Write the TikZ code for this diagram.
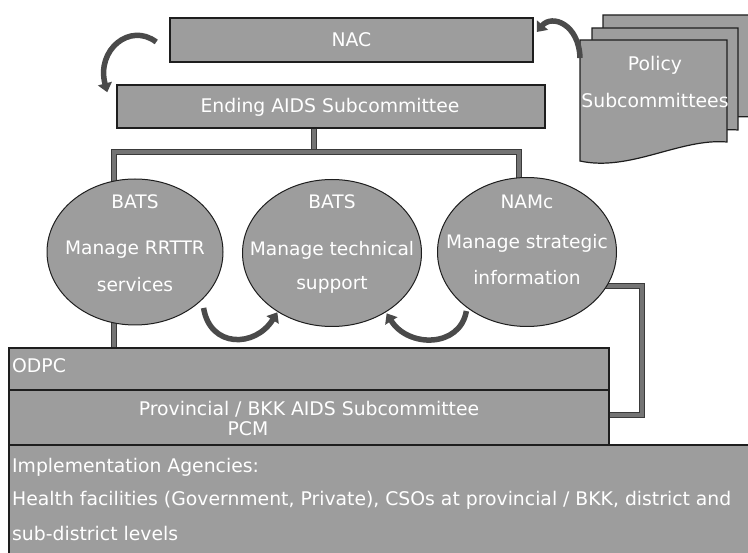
\documentclass[tikz,border=0pt]{standalone}
\usepackage{fontspec}
\setmainfont{DejaVu Sans}
\usetikzlibrary{shapes.geometric,arrows.meta,calc}
\definecolor{boxfill}{HTML}{9D9D9D}
\definecolor{boxline}{HTML}{1E1E1E}
\definecolor{connout}{HTML}{3A3A3A}
\definecolor{connin}{HTML}{747474}
\definecolor{arrowcol}{HTML}{4A4A4A}
\pgfdeclarelayer{bg}
\pgfsetlayers{bg,main}
\tikzset{
  box/.style={draw=boxline, fill=boxfill, line width=1.5pt, rectangle, inner sep=0pt},
  oval/.style={draw=boxline, fill=boxfill, line width=1pt, ellipse, inner sep=0pt},
  txt/.style={text=white, font=\fontsize{18.8}{22}\selectfont, inner sep=0pt},
  etxt/.style={text=white, font=\fontsize{18.6}{22}\selectfont, inner sep=0pt},
  conn/.style={draw=connout, line width=6.5pt, postaction={draw=connin, line width=3.5pt}},
  carrow/.style={draw=arrowcol, line width=5.5pt, -{Triangle[length=9pt,width=14pt]}},
  doc/.style={draw=boxline, fill=boxfill, line width=1.2pt},
}
\begin{document}
\begin{tikzpicture}[x=1pt,y=-1pt]
\useasboundingbox (0,0) rectangle (748,553);
\clip (0,0) rectangle (748,553);
% top boxes
\node[box, minimum width=363pt, minimum height=44pt] (nac) at (351.5,40) {};
\node[txt] (nacl) at (351.5,40) {NAC};
\node[box, minimum width=428pt, minimum height=43pt] (end) at (331,106.5) {};
\node[txt] (endl) at (330,107) {Ending AIDS Subcommittee};
% policy documents
\draw[doc] (603,15) -- (752,15) -- (752,117) .. controls (705,113) and (650,145) .. (603,135) -- cycle;
\draw[doc] (592,28) -- (738,28) -- (738,130) .. controls (691,126) and (640,158) .. (592,148) -- cycle;
\draw[doc] (580,40) -- (727,40) -- (727,142) .. controls (680,138) and (630,172) .. (580,161) -- cycle;
\coordinate (polc) at (580,58);
\node[txt] (pol1) at (655,65) {Policy};
\node[txt] (pol2) at (655,100) {Subcommittees};
% ellipses
\node[oval, minimum width=176pt, minimum height=146pt] (e1) at (135,252) {};
\node[oval, minimum width=179pt, minimum height=147pt] (e2) at (332,253) {};
\node[oval, minimum width=179pt, minimum height=149pt] (e3) at (527,252) {};
\node[etxt] (e1a) at (135,202) {BATS};
\node[etxt] (e1b) at (135,250) {Manage RRTTR};
\node[etxt] (e1c) at (135,285) {services};
\node[etxt] (e2a) at (332,202) {BATS};
\node[etxt] (e2b) at (332,250) {Manage technical};
\node[etxt] (e2c) at (332,285) {support};
\node[etxt] (e3a) at (527,202) {NAMc};
\node[etxt] (e3b) at (527,243) {Manage strategic};
\node[etxt] (e3c) at (527,278) {information};
% bottom boxes
\node[box, minimum width=600pt, minimum height=42pt] (odpc) at (309,369) {};
\node[txt, anchor=west] (odpcl) at (12,366) {ODPC};
\node[box, minimum width=600pt, minimum height=55pt] (prov) at (309,417.5) {};
\node[txt] (prov1) at (309,409) {Provincial / BKK AIDS Subcommittee};
\node[txt] (prov2) at (248,429) {PCM};
\node[box, minimum width=744pt, minimum height=112pt] (impl) at (381,501) {};
\node[txt, anchor=west] (impl1) at (12,467) {Implementation Agencies:};
\node[txt, anchor=west] (impl2) at (12,500) {Health facilities (Government, Private), CSOs at provincial / BKK, district and};
\node[txt, anchor=west] (impl3) at (12,533) {sub-district levels};
% connectors (behind)
\coordinate (hub) at (314,152);
\coordinate (lx) at (114,152);
\coordinate (rx) at (519,152);
\coordinate (c1) at (642,286);
\coordinate (c2) at (642,415);
\begin{pgfonlayer}{bg}
\draw[conn] (end.center -| hub) -- (hub);
\draw[conn] (e1.center -| lx) -- (lx) -- (rx) -- (e3.center -| rx);
\draw[conn] (e1.center -| lx) -- (odpc.center -| lx);
\draw[conn] (e3.center |- c1) -- (c1) -- (c2) -- (prov.center |- c2);
\end{pgfonlayer}
% curved arrows
\draw[carrow] ($(nac.west)+(-13,2)$) .. controls (130,22) and (96,50) .. ($(end.north west)+(-9,8)$);
\draw[carrow] (polc) .. controls (579,24) and (552,14) .. ($(nac.east)+(3,-8)$);
\draw[carrow] ($(e1.south east)+(6,4)$) .. controls (210,348) and (255,348) .. ($(e2.south west)+(9,7)$);
\draw[carrow] ($(e3.south west)+(3,6)$) .. controls (460,348) and (408,348) .. ($(e2.south east)+(-9,8)$);
\end{tikzpicture}
\end{document}
